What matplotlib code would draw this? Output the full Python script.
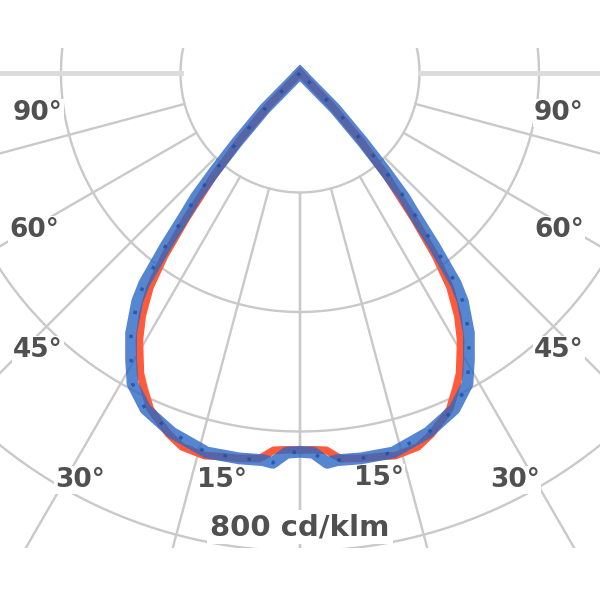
import numpy as np
import matplotlib
matplotlib.use("Agg")
import matplotlib.pyplot as plt

# ---- data (luminous intensity, cd/klm) ----
angles_c0 = [0, 2, 4, 5.5, 9, 13.8, 19.6, 24.7, 28.3, 30.5, 33, 35.5, 36.5, 37.8, 39, 40, 41, 42.3, 44.5, 47]
values_c0 = [634, 636, 654, 651, 653, 654, 639, 619, 591, 557, 519, 469, 438, 368, 305, 271, 218, 157, 84, 0]
angles_c90 = [0, 2, 4, 5, 6, 9, 12, 14, 17.5, 20, 22, 24, 26.3, 28, 31, 33, 35, 36.5, 38, 40, 42, 44, 46]
values_c90 = [631, 631, 633, 641, 649, 653, 656, 660, 656, 643, 629, 616, 589, 569, 522, 485, 438, 382, 310, 226, 147, 75, 0]
ring_values = [200, 400, 600, 800, 1000]
grid_step = 15
angle_labels = ["90°", "60°", "45°", "30°", "15°", "15°", "30°", "45°", "60°", "90°"]
scale_label = "800 cd/klm"

# ---- layout helpers ----
K = 0.5975          # px per cd/klm
POLE_Y = 73         # pole position in px from top
def px2data(px, py):
    return (px - 300) / K, (POLE_Y - py) / K

label_px = [(38, 113), (34, 230), (38, 350), (80, 480), (222, 480),
            (379, 478), (515, 480), (559, 350), (559, 230), (559, 113)]

def mirrored(angles, values):
    a = np.asarray(angles, float)
    v = np.asarray(values, float)
    th = np.concatenate([-a[::-1], a[1:]])
    r = np.concatenate([v[::-1], v[1:]])
    return th, r

def to_xy(th_deg, r):
    t = np.radians(th_deg)
    return r * np.sin(t), -r * np.cos(t)

fig = plt.figure(figsize=(6, 6), dpi=100)
ax = fig.add_axes([0, 52 / 600, 1, 500 / 600])
ax.set_xlim(-300 / K, 300 / K)
ax.set_ylim((POLE_Y - 548) / K, (POLE_Y - 48) / K)
ax.set_aspect("equal", adjustable="box")
ax.axis("off")

grid_col = "#c9c9c9"
# rings
tt = np.linspace(0, 360, 1441)
for R in ring_values:
    x, y = to_xy(tt, np.full_like(tt, R))
    ax.plot(x, y, color=grid_col, lw=1.7, zorder=1, solid_capstyle="butt")
# radial lines starting from first ring
for a in range(0, 181, grid_step):
    for s in (-1, 1):
        rr = np.array([ring_values[0], 2000.0])
        x, y = to_xy(np.array([s * a, s * a]), rr)
        if a == 90:
            ax.plot(x, y, color="#dcdcdc", lw=3.5, zorder=1)
        else:
            ax.plot(x, y, color=grid_col, lw=1.7, zorder=1)

# labels
for txt, (px, py) in zip(angle_labels, label_px):
    x, y = px2data(px, py)
    ax.text(x, y, txt, ha="center", va="center", fontsize=19, fontweight="bold",
            color="#505050", zorder=3,
            bbox=dict(facecolor="white", edgecolor="none", pad=1))
x, y = px2data(300, 527)
ax.text(x, y, scale_label, ha="center", va="center", fontsize=21, fontweight="bold",
        color="#505050", zorder=3,
        bbox=dict(facecolor="white", edgecolor="none", pad=2))

# curves
th, r = mirrored(angles_c90, values_c90)
x, y = to_xy(th, r)
ax.plot(x, y, color="#ff5a3a", lw=5.5, zorder=4, solid_joinstyle="round")

th, r = mirrored(angles_c0, values_c0)
x, y = to_xy(th, r)
ax.plot(x, y, color="#2c68c4", lw=8.5, alpha=0.8, zorder=5, solid_joinstyle="round")
ax.plot(x, y, color="#1a4fa8", lw=2.5, alpha=0.8, zorder=6, dashes=(1, 6))

fig.savefig("out.png", dpi=100, facecolor="white")
